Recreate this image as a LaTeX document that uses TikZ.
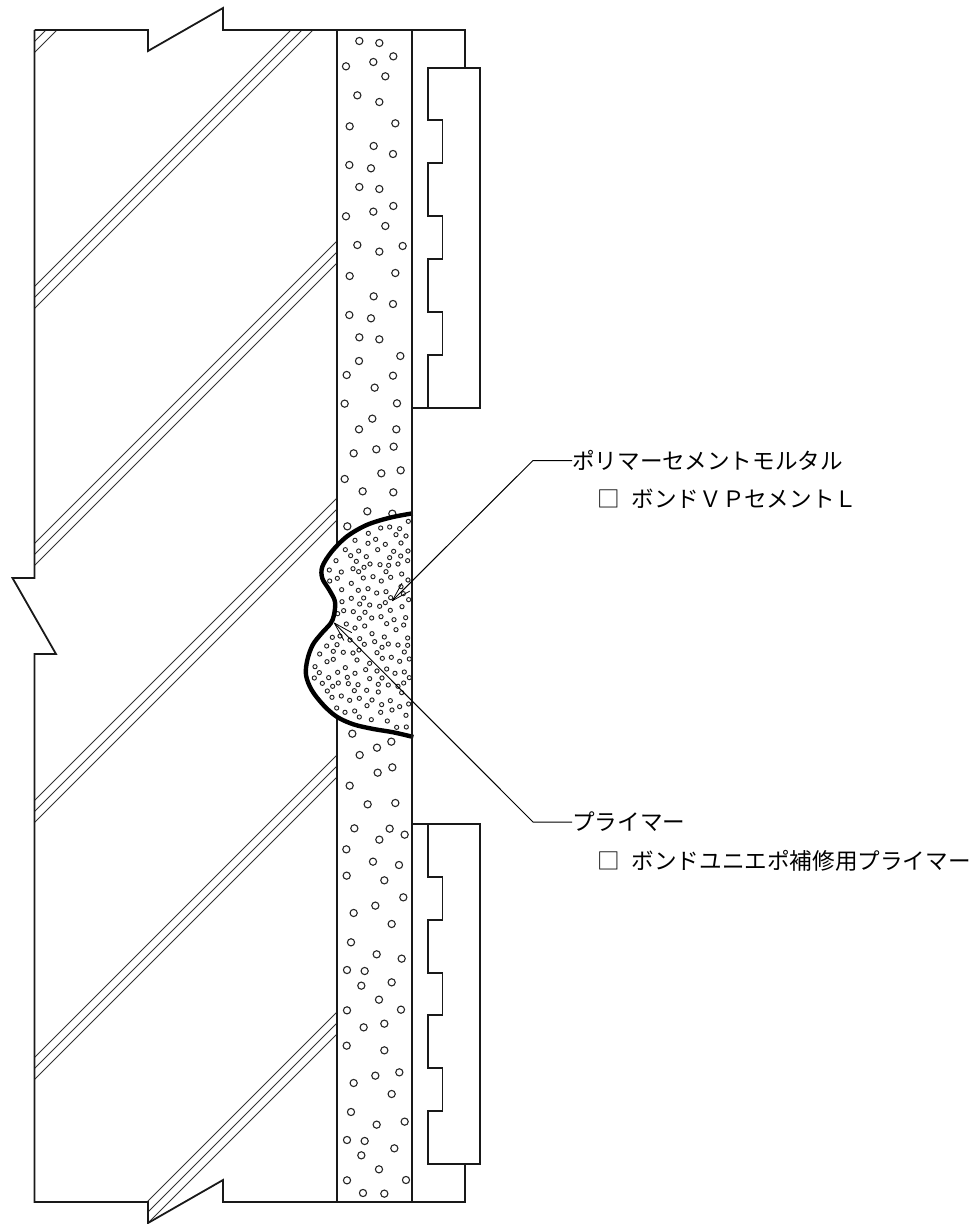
\documentclass[tikz,border=0pt]{standalone}
\usepackage{fontspec}
\usetikzlibrary{arrows.meta}
\newfontfamily\jpfont{Noto Sans CJK JP}
\tikzset{
  wall/.style={line width=1.8pt,black!90,line join=miter},
  hatchline/.style={line width=1pt,black!80},
  pebble/.style={line width=1.1pt,black!85},
  grain/.style={line width=0.95pt,black!85},
  repair/.style={line width=4.4pt,black,line cap=butt,line join=round},
  leader/.style={line width=1pt,black},
  leadertip/.style={-{Straight Barb[length=19pt,width=11pt,line width=0.8pt,round=false]}},
  lbl/.style={font=\jpfont\fontsize{22.6pt}{26pt}\selectfont,anchor=west,inner sep=0pt,text height=19.9pt,text depth=2.7pt}
}
\begin{document}
\begin{tikzpicture}[x=1pt,y=-1pt]
\useasboundingbox (0,0) rectangle (974,1224);
% hatching
\begin{scope}
\clip (34,30) -- (337,30) -- (337,1223) -- (148,1223) -- (148,1202) -- (34,1202) -- cycle;
\foreach \s in {76,87,321,332,343,578,589,600,835,846,857,1092,1103,1114,1349,1360,1371}
  \draw[hatchline] (0,\s) -- (\s,0);
\end{scope}
% walls
\draw[wall] (337,30) -- (337,1202);
\draw[wall] (34.5,30) -- (148,30) -- (148,51) -- (223,8) -- (223,30) -- (465,30) -- (465,68);
\draw[wall] (34.5,30) -- (34.5,578) -- (12.5,578) -- (56,654) -- (34.5,654) -- (34.5,1202) -- (148,1202) -- (148,1223) -- (223,1180) -- (223,1202) -- (465,1202) -- (465,1164);
% tiles
\draw[wall] (480,68) -- (428,68) -- (428,120) -- (442.5,120) -- (442.5,163) -- (428,163) -- (428,216) -- (442.5,216) -- (442.5,259) -- (428,259) -- (428,312) -- (442.5,312) -- (442.5,355) -- (428,355) -- (428,408) -- (480,408) -- cycle;
\draw[wall] (412.5,408) -- (428,408);
\draw[wall] (480,824) -- (428,824) -- (428,877) -- (442.5,877) -- (442.5,920) -- (428,920) -- (428,973) -- (442.5,973) -- (442.5,1015) -- (428,1015) -- (428,1068) -- (442.5,1068) -- (442.5,1111) -- (428,1111) -- (428,1164) -- (480,1164) -- cycle;
\draw[wall] (412.5,824) -- (428,824);
% aggregate
\begin{scope}[shift={(330,20)},x=0.3333pt,y=-0.3333pt]
\foreach \a/\b in {88/63,148/69,190/109,130/126,48/139,166/169,82/226,148/246,59/319,196/310,131/378,189/402,58/435,123/445,88/501,148/507,190/558,130/575,48/589,166/618,82/675,148/695,218/678}
  \draw[pebble] (\a,\b) circle[radius=3.6pt];
\end{scope}
\begin{scope}[shift={(330,250)},x=0.3333pt,y=-0.3333pt]
\foreach \a/\b in {59/78,196/69,131/139,189/162,58/195,123/205,88/262,148/268,87/333,211/318,50/375,189/377,134/413,44/461,201/460,127/506,87/538,199/538,71/610,139/598,191/590,44/687,154/670,212/661,98/724,190/727}
  \draw[pebble] (\a,\b) circle[radius=3.6pt];
\end{scope}
\begin{scope}[shift={(290,490)},x=0.3333pt,y=-0.3333pt]
\foreach \a/\b in {232/64,307/71,172/109}
  \draw[pebble] (\a,\b) circle[radius=3.6pt];
\end{scope}
\begin{scope}[shift={(330,730)},x=0.3333pt,y=-0.3333pt]
\foreach \a/\b in {67/11,184/35,141/53,89/75,143/128,187/112,59/167,113/223,196/219,73/295,179/296,148/329,224/314,49/358,129/395,207/405,50/437,163/451,220/502,136/527,71/549,185/582,63/637,140/673,215/686}
  \draw[pebble] (\a,\b) circle[radius=3.6pt];
\end{scope}
\begin{scope}[shift={(330,965)},x=0.3333pt,y=-0.3333pt]
\foreach \a/\b in {51/15,104/18,94/62,185/52,147/104,51/136,213/134,101/187,163/176,50/242,163/256,71/354,136/332,208/322,185/387,63/441,140/479,224/470,51/525,104/528,94/571,193/550,147/613,51/646,228/645,99/684,163/686}
  \draw[pebble] (\a,\b) circle[radius=3.6pt];
\end{scope}
% repair patch
\begin{scope}[shift={(290,490)},x=0.3333pt,y=-0.3333pt]
\fill[white] plot[smooth,tension=0.55] coordinates {(368,70) (300,83) (230,105) (170,140) (125,185) (97,230) (97,265) (118,300) (135,335) (132,375) (122,400) (95,430) (68,465) (52,510) (48,555) (65,600) (100,645) (140,680) (190,703) (250,717) (310,727) (370,741)} -- cycle;
\foreach \a/\b in {355/94,272/114,299/111,329/116,235/130,318/134,348/138,195/151,257/148,234/160,286/163,333/159,166/179,206/183,263/179,311/184,354/183,182/197,229/200,299/203,332/198,138/212,199/214,240/222,222/232,270/224,296/226,324/222,353/212,189/236,206/245,118/240,154/246,288/245,335/252,142/265,119/273,220/264,249/260,302/262,274/273,354/270,184/280,333/290,155/299,205/301,234/296,260/309,288/305,340/311,302/323,356/329,184/325,221/324,156/335,209/342,239/345,269/349,286/338,336/350,161/362,190/365,225/367,143/371,301/361,208/385,245/384,273/380,312/389,347/383,290/401,341/405,169/402,195/414,224/408,318/419,246/431,283/441,127/442,353/444,209/446,150/438,110/468,141/464,180/450,254/455,223/463,295/462,276/472,324/465,353/466,207/480,130/484,160/487,89/492,189/489,261/488,343/486,304/502,277/505,130/508,111/515,201/510,358/507,329/514,239/520,75/530,166/533,227/539,290/537,261/543,88/548,143/547,195/550,315/550,343/546,73/564,116/563,172/562,239/566,276/564,358/563,97/580,145/579,175/581,128/589,204/584,265/583,295/585,341/579,324/589,112/603,193/602,230/601,265/606,335/608,126/622,154/618,179/631,208/625,246/630,231/647,275/644,301/632,329/650,356/642,140/654,165/667,194/663,272/667,306/660,348/676,208/681,244/689,292/693,320/712,349/711}
  \draw[grain] (\a,\b) circle[radius=2.1pt];
\draw[repair] plot[smooth,tension=0.55] coordinates {(368,70) (300,83) (230,105) (170,140) (125,185) (97,230) (97,265) (118,300) (135,335) (132,375) (122,400) (95,430) (68,465) (52,510) (48,555) (65,600) (100,645) (140,680) (190,703) (250,717) (310,727) (370,741)};
\end{scope}
\draw[wall] (412.3,30) -- (412.3,1202);
% labels
\node[lbl] (polymer) at (572,460.5) {ポリマーセメントモルタル};
\node[lbl] (polymerprod) at (597,499) {□\hspace{12pt}ボンドＶＰセメントＬ};
\node[lbl] (primer) at (572,822) {プライマー};
\node[lbl] (primerprod) at (597,861) {□\hspace{12pt}ボンドユニエポ補修用プライマー};
% leaders
\coordinate (kinkA) at (533,460.5);
\coordinate (tipA) at (392,601);
\coordinate (kinkB) at (533,822);
\coordinate (tipB) at (334,622.7);
\draw[leader,leadertip] (polymer.west) -- (kinkA) -- (tipA);
\draw[leader,leadertip] (primer.west) -- (kinkB) -- (tipB);
\end{tikzpicture}
\end{document}
